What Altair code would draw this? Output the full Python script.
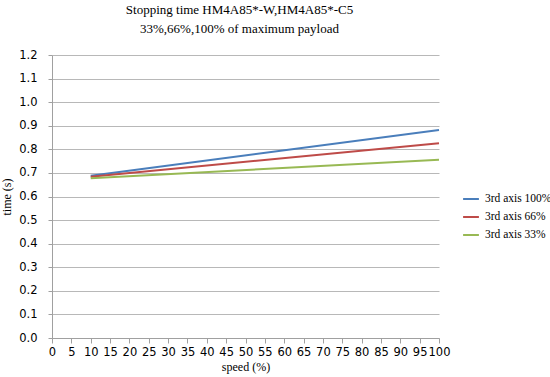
import altair as alt
import pandas as pd

speeds = [10, 100]
series_names = ["3rd axis 100%", "3rd axis 66%", "3rd axis 33%"]
time_100 = [0.688, 0.882]
time_66 = [0.684, 0.826]
time_33 = [0.677, 0.756]
colors = ["#4a7ebb", "#be4b48", "#98b954"]
x_ticks = list(range(0, 101, 5))
y_ticks = [round(i * 0.1, 1) for i in range(13)]

rows = []
for name, vals in zip(series_names, [time_100, time_66, time_33]):
    for s, v in zip(speeds, vals):
        rows.append({"speed": s, "time": v, "series": name})
df = pd.DataFrame(rows)

chart = alt.Chart(df).mark_line(strokeWidth=2).encode(
    x=alt.X("speed:Q", scale=alt.Scale(domain=[0, 100], nice=False),
            axis=alt.Axis(values=x_ticks, title="speed (%)", grid=False,
                          labelFont="DejaVu Sans", labelFontSize=11.5, labelColor="#000",
                          titleFont="Liberation Serif", titleFontSize=12, titleFontWeight="normal",
                          titleColor="#000", domainColor="#a0a0a0", tickColor="#a0a0a0",
                          tickSize=5, labelPadding=3, titlePadding=4, labelFlush=False,
                          labelOverlap=False)),
    y=alt.Y("time:Q", scale=alt.Scale(domain=[0, 1.2], nice=False),
            axis=alt.Axis(values=y_ticks, format=".1f", title="time (s)",
                          labelFont="DejaVu Sans", labelFontSize=11.5, labelColor="#000",
                          titleFont="Liberation Serif", titleFontSize=12, titleFontWeight="normal",
                          titleColor="#000", domainColor="#a0a0a0", tickColor="#a0a0a0",
                          gridColor="#b8b8b8", tickSize=4, labelPadding=11, titlePadding=5)),
    color=alt.Color("series:N", scale=alt.Scale(domain=series_names, range=colors),
                    sort=series_names,
                    legend=alt.Legend(title=None, orient="none", legendX=410, legendY=135,
                                      symbolType="stroke", symbolStrokeWidth=2, symbolSize=250,
                                      labelFont="Liberation Serif", labelFontSize=11.5,
                                      labelColor="#000", rowPadding=3, labelOffset=5,
                                      labelLimit=100)),
).properties(
    width=387, height=283,
    title=alt.TitleParams(["Stopping time HM4A85*-W,HM4A85*-C5", "33%,66%,100% of maximum payload"],
                          font="Liberation Serif", fontSize=13, fontWeight="normal",
                          color="#000", anchor="middle", offset=13, lineHeight=19, dx=-6),
    autosize=alt.AutoSizeParams(type="none"),
    padding={"left": 52, "top": 55, "right": 111, "bottom": 39},
).configure_view(stroke=None)

chart.save("out.html", embed_options={"renderer": "svg", "actions": False})
